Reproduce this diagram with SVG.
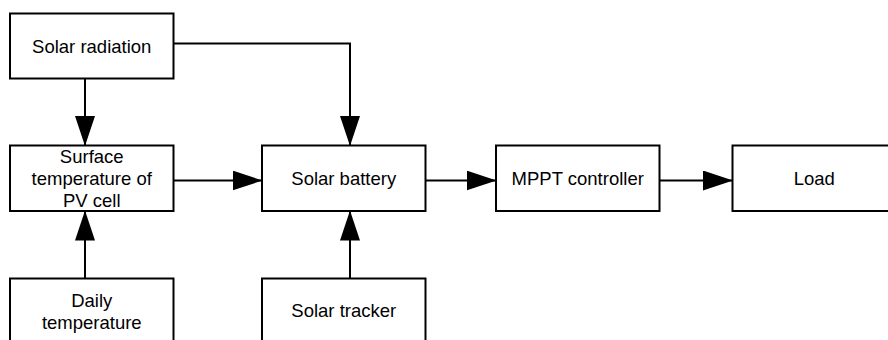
<svg xmlns="http://www.w3.org/2000/svg" width="888" height="340" viewBox="0 0 888 340">
<style>
.box{fill:#fff;stroke:#000;stroke-width:2}
.t{font-family:"Liberation Sans",Arial,sans-serif;font-size:18.5px;fill:#000;text-anchor:middle}
.c{fill:none;stroke:#000;stroke-width:2}
</style>
<defs>
<marker id="ah" markerUnits="userSpaceOnUse" markerWidth="30" markerHeight="20" refX="29" refY="10" orient="auto" viewBox="0 0 30 20">
<path d="M0,0 L30,10 L0,20 Z" fill="#000"/>
</marker>
</defs>
<rect width="888" height="340" fill="#fff"/>
<g id="connectors">
<path class="c" d="M85,78.5 V145" marker-end="url(#ah)"/>
<path class="c" d="M173.5,43.5 H350 V145" marker-end="url(#ah)"/>
<path class="c" d="M173.5,180.5 H261.5" marker-end="url(#ah)"/>
<path class="c" d="M425.5,180.5 H495.5" marker-end="url(#ah)"/>
<path class="c" d="M659.5,180.5 H732" marker-end="url(#ah)"/>
<path class="c" d="M85,278.5 V211.5" marker-end="url(#ah)"/>
<path class="c" d="M350,278.5 V211.5" marker-end="url(#ah)"/>
</g>
<g id="solar-radiation">
<rect class="box" x="10" y="13.5" width="163.5" height="65"/>
<text class="t" x="91.75" y="52.5">Solar radiation</text>
</g>
<g id="surface-temperature">
<rect class="box" x="10" y="145.5" width="163.5" height="65.5"/>
<text class="t" x="91.75" y="162.7">Surface</text>
<text class="t" x="91.75" y="184.6">temperature of</text>
<text class="t" x="91.75" y="206.5">PV cell</text>
</g>
<g id="solar-battery">
<rect class="box" x="262" y="145.5" width="163.5" height="65.5"/>
<text class="t" x="343.75" y="185">Solar battery</text>
</g>
<g id="mppt-controller">
<rect class="box" x="496" y="145.5" width="163.5" height="65.5"/>
<text class="t" x="577.75" y="185">MPPT controller</text>
</g>
<g id="load">
<rect class="box" x="732.5" y="145.5" width="163.5" height="65.5"/>
<text class="t" x="814.25" y="185">Load</text>
</g>
<g id="daily-temperature">
<rect class="box" x="10" y="278.5" width="163.5" height="65.5"/>
<text class="t" x="91.75" y="306.7">Daily</text>
<text class="t" x="91.75" y="328.6">temperature</text>
</g>
<g id="solar-tracker">
<rect class="box" x="262" y="278.5" width="163.5" height="65.5"/>
<text class="t" x="343.75" y="317.3">Solar tracker</text>
</g>
</svg>
